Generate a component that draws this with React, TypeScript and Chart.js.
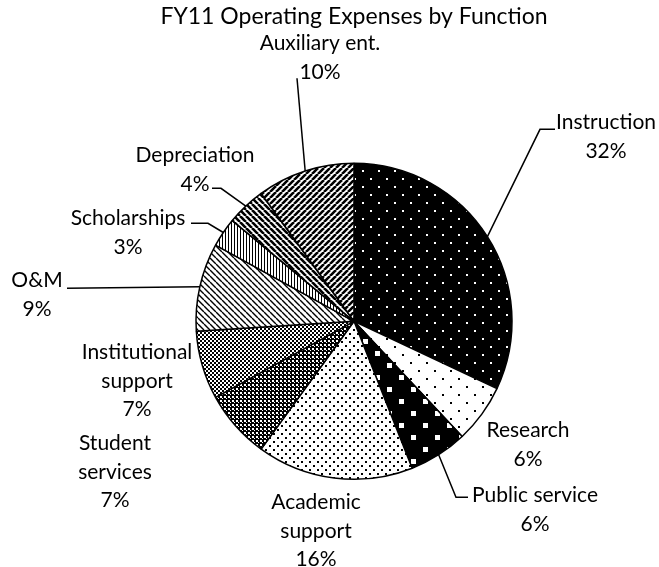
import React, { useEffect, useRef } from 'react';
import Chart from 'chart.js/auto';

// ---- data ----
const chartTitle = 'FY11 Operating Expenses by Function';
const categories = [
  'Instruction',
  'Research',
  'Public service',
  'Academic support',
  'Student services',
  'Institutional support',
  'O&M',
  'Scholarships',
  'Depreciation',
  'Auxiliary ent.',
];
const shares = [32, 6, 6, 16, 7, 7, 9, 3, 4, 10];
const labelLines = [
  ['Instruction'],
  ['Research'],
  ['Public service'],
  ['Academic', 'support'],
  ['Student', 'services'],
  ['Institutional', 'support'],
  ['O&M'],
  ['Scholarships'],
  ['Depreciation'],
  ['Auxiliary ent.'],
];

// ---- layout (offsets from pie centre, px) ----
const LABEL_LAYOUT: { text: [number, number]; leader?: [number, number][] }[] = [
  { text: [252, -199], leader: [[186, -192], [201, -192]] },
  { text: [174, 109] },
  { text: [181, 174], leader: [[102, 176], [114, 176]] },
  { text: [-38, 181] },
  { text: [-239, 122] },
  { text: [-217, 31] },
  { text: [-317, -41], leader: [[-287, -33]] },
  { text: [-226, -103], leader: [[-146, -98], [-163, -98]] },
  { text: [-159, -166], leader: [[-133, -133], [-142, -133]] },
  { text: [-34, -278], leader: [[-57, -243]] },
];
const LINE_H = 28.5;
const LABEL_FONT = '21px Lato';

type Draw = (g: CanvasRenderingContext2D, w: number, h: number) => void;

function makePattern(ctx: CanvasRenderingContext2D, w: number, h: number, draw: Draw) {
  const c = document.createElement('canvas');
  c.width = w;
  c.height = h;
  const g = c.getContext('2d')!;
  draw(g, w, h);
  return ctx.createPattern(c, 'repeat')!;
}

function fill(g: CanvasRenderingContext2D, color: string, w: number, h: number) {
  g.fillStyle = color;
  g.fillRect(0, 0, w, h);
}

function diag(dir: 'up' | 'down', lw: number): Draw {
  return (g, s) => {
    fill(g, '#fff', s, s);
    g.strokeStyle = '#000';
    g.lineWidth = lw;
    g.beginPath();
    for (let k = -1; k <= 1; k++) {
      if (dir === 'up') {
        g.moveTo(k * s, s);
        g.lineTo(k * s + s, 0);
      } else {
        g.moveTo(k * s, 0);
        g.lineTo(k * s + s, s);
      }
    }
    g.stroke();
  };
}

function buildPatterns(ctx: CanvasRenderingContext2D) {
  return [
    // Instruction: black with white dots
    makePattern(ctx, 16, 16, (g, w, h) => {
      fill(g, '#000', w, h);
      g.fillStyle = '#fff';
      g.fillRect(2, 2, 2, 2);
      g.fillRect(10, 10, 2, 2);
    }),
    // Research: white with sparse black dots
    makePattern(ctx, 16, 16, (g, w, h) => {
      fill(g, '#fff', w, h);
      g.fillStyle = '#000';
      g.fillRect(2, 2, 2, 2);
      g.fillRect(10, 10, 2, 2);
    }),
    // Public service: black with white squares
    makePattern(ctx, 24, 24, (g, w, h) => {
      fill(g, '#000', w, h);
      g.fillStyle = '#fff';
      g.fillRect(3, 3, 5, 5);
      g.fillRect(15, 15, 5, 5);
    }),
    // Academic support: white with dense black dots
    makePattern(ctx, 8, 8, (g, w, h) => {
      fill(g, '#fff', w, h);
      g.fillStyle = '#000';
      g.fillRect(1, 1, 2, 2);
      g.fillRect(5, 5, 2, 2);
    }),
    // Student services: dark checker
    makePattern(ctx, 4, 4, (g, w, h) => {
      fill(g, '#000', w, h);
      g.fillStyle = '#fff';
      g.fillRect(0, 0, 2, 2);
      g.fillRect(2, 2, 1, 1);
    }),
    // Institutional support: checker
    makePattern(ctx, 4, 4, (g, w, h) => {
      fill(g, '#fff', w, h);
      g.fillStyle = '#000';
      g.fillRect(0, 0, 2, 2);
      g.fillRect(2, 2, 2, 2);
    }),
    // O&M: light downward diagonal
    makePattern(ctx, 6, 6, diag('down', 1.4)),
    // Scholarships: narrow vertical lines
    makePattern(ctx, 3, 3, (g, w, h) => {
      fill(g, '#fff', w, h);
      g.fillStyle = '#000';
      g.fillRect(0, 0, 1, h);
    }),
    // Depreciation: dark downward diagonal
    makePattern(ctx, 6, 6, diag('down', 2.6)),
    // Auxiliary: dark upward diagonal
    makePattern(ctx, 6, 6, diag('up', 2.6)),
  ];
}

const labelPlugin = {
  id: 'outerLabels',
  afterDatasetsDraw(chart: any) {
    const ctx: CanvasRenderingContext2D = chart.ctx;
    const meta = chart.getDatasetMeta(0);
    const values: number[] = chart.data.datasets[0].data;
    const total = values.reduce((a, b) => a + b, 0);
    ctx.save();
    meta.data.forEach((arc: any, i: number) => {
      const p = arc.getProps(['x', 'y', 'startAngle', 'endAngle', 'outerRadius'], true);
      const mid = (p.startAngle + p.endAngle) / 2;
      const ex = p.x + p.outerRadius * Math.cos(mid);
      const ey = p.y + p.outerRadius * Math.sin(mid);
      const lay = LABEL_LAYOUT[i];
      if (lay.leader) {
        ctx.strokeStyle = '#000';
        ctx.lineWidth = 1.5;
        ctx.beginPath();
        ctx.moveTo(ex, ey);
        lay.leader.forEach(([dx, dy]) => ctx.lineTo(p.x + dx, p.y + dy));
        ctx.stroke();
      }
      const lines = [...labelLines[i], Math.round((values[i] / total) * 100) + '%'];
      ctx.fillStyle = '#000';
      ctx.font = LABEL_FONT;
      ctx.textAlign = 'center';
      ctx.textBaseline = 'middle';
      lines.forEach((t, j) => {
        ctx.fillText(t, p.x + lay.text[0], p.y + lay.text[1] + j * LINE_H);
      });
    });
    ctx.restore();
  },
};

export default function App() {
  const ref = useRef<HTMLCanvasElement>(null);
  useEffect(() => {
    const canvas = ref.current!;
    const ctx = canvas.getContext('2d')!;
    const patterns = buildPatterns(ctx);
    const chart = new Chart(canvas, {
      type: 'pie',
      data: {
        labels: categories,
        datasets: [
          {
            data: shares,
            backgroundColor: patterns,
            borderColor: '#000',
            borderWidth: 1.5,
          },
        ],
      },
      options: {
        responsive: false,
        animation: false,
        radius: 158,
        layout: { padding: { left: 150, right: 101, top: 0, bottom: 84 } },
        plugins: {
          legend: { display: false },
          tooltip: { enabled: false },
          title: {
            display: true,
            text: chartTitle,
            color: '#000',
            fullSize: false,
            font: { family: 'Lato', size: 23, weight: 'normal', lineHeight: 1.2 },
            padding: { top: 3, bottom: 129 },
          },
        },
      } as any,
      plugins: [labelPlugin],
    });
    return () => chart.destroy();
  }, []);
  return (
    <div style={{ position: 'fixed', left: 0, top: 0, width: 659, height: 567, background: '#fff' }}>
      <canvas ref={ref} width={659} height={567} />
    </div>
  );
}
